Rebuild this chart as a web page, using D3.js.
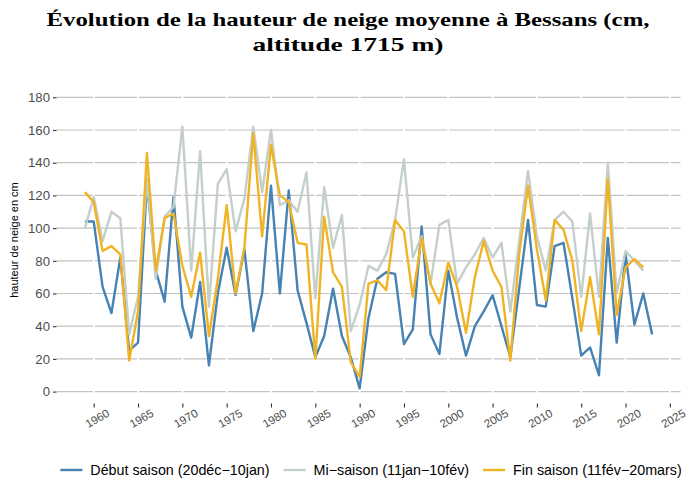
<!DOCTYPE html>
<html>
<head>
<meta charset="utf-8">
<script src="https://cdn.jsdelivr.net/npm/d3@7"></script>
<style>
  body { margin: 0; background: #fff; }
  svg { display: block; }
</style>
</head>
<body>
<svg id="chart" width="697" height="479"></svg>
<script>
// Saisons d'hiver, de 1959 à 2023
const years = [1959, 1960, 1961, 1962, 1963, 1964, 1965, 1966, 1967, 1968,
  1969, 1970, 1971, 1972, 1973, 1974, 1975, 1976, 1977, 1978,
  1979, 1980, 1981, 1982, 1983, 1984, 1985, 1986, 1987, 1988,
  1989, 1990, 1991, 1992, 1993, 1994, 1995, 1996, 1997, 1998,
  1999, 2000, 2001, 2002, 2003, 2004, 2005, 2006, 2007, 2008,
  2009, 2010, 2011, 2012, 2013, 2014, 2015, 2016, 2017, 2018,
  2019, 2020, 2021, 2022, 2023];

// Hauteur moyenne (cm), début de saison : 20 déc – 10 jan
const debutSaison = [104, 104, 64, 48, 82, 25, 30, 127, 74, 55,
  119, 52, 33, 67, 16, 60, 88, 59, 87, 37,
  60, 126, 60, 123, 62, 42, 21, 34, 63, 34,
  21, 2, 45, 69, 73, 72, 29, 38, 101, 35,
  23, 74, 45, 22, 40, 49, 59, 40, 21, 63,
  105, 53, 52, 89, 91, 57, 22, 27, 10, 94,
  30, 84, 41, 60, 35];

// Mi-saison : 11 jan – 10 fév (jusqu'en 2022)
const miSaison = [100, 119, 92, 110, 106, 35, 58, 130, 69, 107,
  113, 162, 74, 147, 52, 127, 136, 98, 118, 162,
  122, 160, 114, 117, 110, 134, 57, 125, 88, 108,
  37, 53, 77, 74, 84, 105, 142, 82, 95, 66,
  102, 105, 66, 76, 84, 94, 82, 91, 49, 92,
  135, 95, 74, 105, 110, 104, 58, 109, 58, 140,
  60, 86, 80, 74];

// Fin de saison : 11 fév – 20 mars (jusqu'en 2022)
const finSaison = [122, 116, 86, 89, 84, 19, 49, 146, 74, 106,
  109, 77, 58, 85, 34, 69, 114, 60, 88, 158,
  95, 151, 120, 116, 91, 90, 20, 107, 73, 64,
  18, 9, 66, 68, 62, 105, 98, 58, 94, 66,
  54, 79, 64, 36, 70, 92, 74, 64, 19, 84,
  126, 87, 56, 105, 99, 80, 37, 70, 35, 130,
  47, 76, 81, 76];

const seriesNames = ["Début saison (20déc\u221210jan)", "Mi\u2212saison (11jan\u221210fév)", "Fin saison (11fév\u221220mars)"];
const seriesColors = ["#4682b4", "#c4cecb", "#f0b323"];
const seriesValues = [debutSaison, miSaison, finSaison];

const yTicks = [0, 20, 40, 60, 80, 100, 120, 140, 160, 180];
const xTicks = [1960, 1965, 1970, 1975, 1980, 1985, 1990, 1995, 2000, 2005, 2010, 2015, 2020, 2025];

const titleLines = ["Évolution de la hauteur de neige moyenne à Bessans (cm,", "altitude 1715 m)"];
const yTitle = "hauteur de neige en cm";

// ---- layout ----
const svg = d3.select("#chart");
const panel = { left: 56.5, right: 680.5, top: 86, bottom: 403.5 };

const x = d3.scaleLinear().domain([1955.8, 2026.2]).range([panel.left, panel.right]);
const y = d3.scaleLinear().domain([0, 180]).range([391.6, 97.3]);

const sansFont = "'Liberation Sans', Arial, Helvetica, sans-serif";

// horizontal grid
svg.append("g")
  .selectAll("line")
  .data(yTicks)
  .join("line")
  .attr("x1", panel.left).attr("x2", panel.right)
  .attr("y1", d => y(d)).attr("y2", d => y(d))
  .attr("stroke", "#c2c2c2")
  .attr("stroke-width", 1.2);

// white vertical grid
svg.append("g")
  .selectAll("line")
  .data(xTicks)
  .join("line")
  .attr("x1", d => x(d)).attr("x2", d => x(d))
  .attr("y1", panel.top).attr("y2", panel.bottom)
  .attr("stroke", "#ffffff")
  .attr("stroke-width", 2);

// y axis
const yAxis = svg.append("g")
  .attr("transform", `translate(${panel.left},0)`)
  .call(d3.axisLeft(y).tickValues(yTicks).tickSize(3.5).tickPadding(3));
yAxis.select(".domain").remove();
yAxis.selectAll(".tick line").attr("stroke", "#333333").attr("stroke-width", 1.1);
yAxis.selectAll(".tick text")
  .attr("fill", "#4d4d4d")
  .style("font-family", sansFont)
  .style("font-size", "13.2px");

// x axis
const xAxis = svg.append("g")
  .attr("transform", `translate(0,${panel.bottom})`)
  .call(d3.axisBottom(x).tickValues(xTicks).tickFormat(d3.format("d")).tickSize(4));
xAxis.select(".domain").remove();
xAxis.selectAll(".tick line").attr("stroke", "#333333").attr("stroke-width", 1.1);
xAxis.selectAll(".tick text")
  .attr("y", null)
  .attr("dy", null)
  .attr("text-anchor", "middle")
  .attr("dominant-baseline", "central")
  .attr("transform", "translate(3,15) rotate(-30)")
  .attr("fill", "#4d4d4d")
  .style("font-family", sansFont)
  .style("font-size", "11.5px");

// y axis title
svg.append("text")
  .attr("transform", `translate(18,240) rotate(-90)`)
  .attr("text-anchor", "middle")
  .style("font-family", sansFont)
  .style("font-size", "11px")
  .attr("fill", "#000")
  .text(yTitle);

// series lines
const line = d3.line()
  .x(d => x(d[0]))
  .y(d => y(d[1]));

svg.append("g")
  .selectAll("path")
  .data(seriesValues.map((vals, i) => ({ i, pts: vals.map((v, k) => [years[k], v]) })))
  .join("path")
  .attr("d", d => line(d.pts))
  .attr("fill", "none")
  .attr("stroke", d => seriesColors[d.i])
  .attr("stroke-width", 2.4)
  .attr("stroke-linejoin", "round")
  .attr("stroke-linecap", "butt");

// title, two centred lines stretched to their set widths
const titleWidths = [603, 191];
titleLines.forEach((t, i) => {
  svg.append("text")
    .attr("x", 348)
    .attr("y", 26 + i * 25)
    .attr("text-anchor", "middle")
    .attr("textLength", titleWidths[i])
    .attr("lengthAdjust", "spacingAndGlyphs")
    .style("font-family", "'Liberation Serif', 'Times New Roman', serif")
    .style("font-weight", "bold")
    .style("font-size", "19.5px")
    .attr("fill", "#000")
    .text(t);
});

// legend
const legend = svg.append("g");
const keyW = 22, keyGap = 8, itemGap = 14;
let cx = 0;
seriesNames.forEach((name, i) => {
  const g = legend.append("g").attr("transform", `translate(${cx},0)`);
  g.append("line")
    .attr("x1", 0).attr("x2", keyW)
    .attr("y1", 0).attr("y2", 0)
    .attr("stroke", seriesColors[i])
    .attr("stroke-width", 2.4);
  const t = g.append("text")
    .attr("x", keyW + keyGap)
    .attr("y", 0)
    .attr("dominant-baseline", "central")
    .style("font-family", sansFont)
    .style("font-size", "14.3px")
    .attr("fill", "#000")
    .text(name);
  cx += keyW + keyGap + t.node().getComputedTextLength() + itemGap;
});
const legendW = cx - itemGap;
legend.attr("transform", `translate(${371 - legendW / 2},470)`);
</script>
</body>
</html>
